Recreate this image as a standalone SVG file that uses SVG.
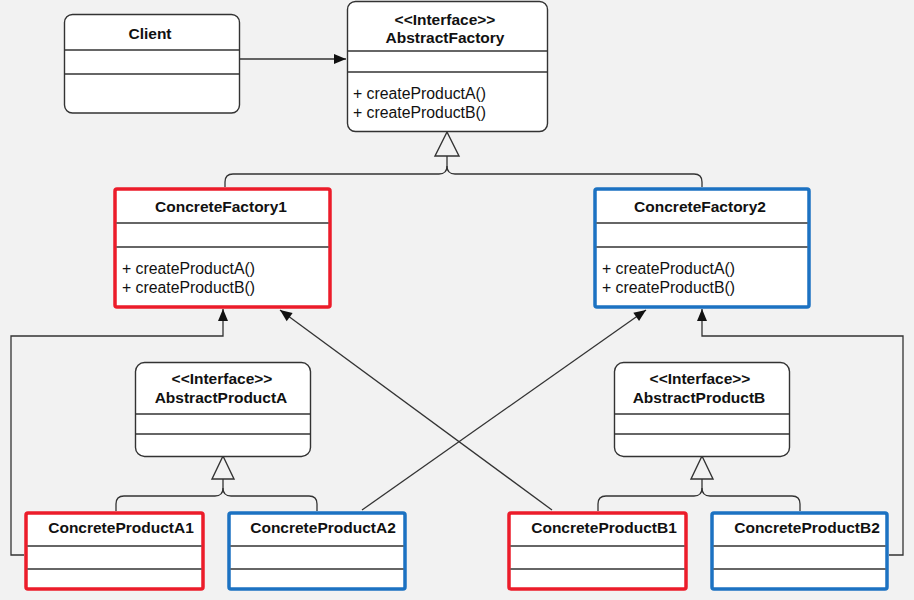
<svg xmlns="http://www.w3.org/2000/svg" width="914" height="600" viewBox="0 0 914 600">
<defs>
<style>
.bg{fill:#f2f2f2}
.box{fill:#ffffff;stroke:#333333;stroke-width:1.4}
.red{fill:#ffffff;stroke:#ec1c2a;stroke-width:3.5}
.blue{fill:#ffffff;stroke:#1c72c2;stroke-width:3.5}
.sep{stroke:#333333;stroke-width:1.4;fill:none}
.t{font-family:"Liberation Sans",Arial,Helvetica,sans-serif;font-size:15.5px;font-weight:bold;fill:#111111;text-anchor:middle}
.m{font-family:"Liberation Sans",Arial,Helvetica,sans-serif;font-size:15.8px;fill:#111111}
.c{fill:none;stroke:#333333;stroke-width:1.3}
.tri{fill:#f2f2f2;stroke:#333333;stroke-width:1.4}
</style>
<marker id="arr" markerUnits="userSpaceOnUse" markerWidth="14" markerHeight="14" viewBox="0 0 14 14" refX="13" refY="7" orient="auto">
<path d="M1,2 L13,7 L1,12 Z" fill="#111111"/>
</marker>
</defs>
<rect class="bg" x="0" y="0" width="914" height="600"/>

<g id="connectors">
<path class="c" d="M239,59 H346" marker-end="url(#arr)"/>
<path class="c" d="M447,156 V166 Q447,174 439,174 H233 Q225,174 225,182 V187"/>
<path class="c" d="M447,166 Q447,174 455,174 H694 Q702,174 702,182 V187"/>
<polygon class="tri" points="447,132 435,156 459,156"/>
<path class="c" d="M24,555 H11 V336 H223 V309" marker-end="url(#arr)"/>
<path class="c" d="M889,555 H903 V336 H702 V309" marker-end="url(#arr)"/>
<path class="c" d="M362,510 L646,310" marker-end="url(#arr)"/>
<path class="c" d="M552,510 L280,310" marker-end="url(#arr)"/>
<path class="c" d="M223,479 V488 Q223,496 215,496 H124 Q116,496 116,504 V511"/>
<path class="c" d="M223,488 Q223,496 231,496 H309 Q317,496 317,504 V511"/>
<polygon class="tri" points="223,456 212,479 234,479"/>
<path class="c" d="M702,479 V488 Q702,496 694,496 H606 Q598,496 598,504 V511"/>
<path class="c" d="M702,488 Q702,496 710,496 H792 Q800,496 800,504 V511"/>
<polygon class="tri" points="702,456 691,479 713,479"/>
</g>

<g id="client">
<rect class="box" x="64.5" y="14.5" width="175" height="98.5" rx="8"/>
<line class="sep" x1="64.5" y1="50" x2="239.5" y2="50"/>
<line class="sep" x1="64.5" y1="74" x2="239.5" y2="74"/>
<text class="t" x="150" y="39">Client</text>
</g>

<g id="abstract-factory">
<rect class="box" x="347.5" y="1.5" width="200" height="130" rx="8"/>
<line class="sep" x1="347.5" y1="51" x2="547.5" y2="51"/>
<line class="sep" x1="347.5" y1="72" x2="547.5" y2="72"/>
<text class="t" x="445" y="25">&lt;&lt;Interface&gt;&gt;</text>
<text class="t" x="445" y="43">AbstractFactory</text>
<text class="m" x="353" y="99">+ createProductA()</text>
<text class="m" x="353" y="118">+ createProductB()</text>
</g>

<g id="concrete-factory-1">
<rect class="red" x="115" y="189" width="215" height="118" rx="2"/>
<line class="sep" x1="116.5" y1="223" x2="328.5" y2="223"/>
<line class="sep" x1="116.5" y1="247" x2="328.5" y2="247"/>
<text class="t" x="221" y="212">ConcreteFactory1</text>
<text class="m" x="122" y="274">+ createProductA()</text>
<text class="m" x="122" y="293">+ createProductB()</text>
</g>

<g id="concrete-factory-2">
<rect class="blue" x="595" y="189" width="214" height="118" rx="2"/>
<line class="sep" x1="596.5" y1="223" x2="807.5" y2="223"/>
<line class="sep" x1="596.5" y1="247" x2="807.5" y2="247"/>
<text class="t" x="700" y="212">ConcreteFactory2</text>
<text class="m" x="602" y="274">+ createProductA()</text>
<text class="m" x="602" y="293">+ createProductB()</text>
</g>

<g id="abstract-product-a">
<rect class="box" x="135.5" y="362.5" width="175" height="94" rx="9"/>
<line class="sep" x1="135.5" y1="414" x2="310.5" y2="414"/>
<line class="sep" x1="135.5" y1="434" x2="310.5" y2="434"/>
<text class="t" x="222" y="384">&lt;&lt;Interface&gt;&gt;</text>
<text class="t" x="221" y="403">AbstractProductA</text>
</g>

<g id="abstract-product-b">
<rect class="box" x="614.5" y="362.5" width="175" height="94" rx="9"/>
<line class="sep" x1="614.5" y1="414" x2="789.5" y2="414"/>
<line class="sep" x1="614.5" y1="434" x2="789.5" y2="434"/>
<text class="t" x="700" y="384">&lt;&lt;Interface&gt;&gt;</text>
<text class="t" x="699" y="403">AbstractProductB</text>
</g>

<g id="concrete-product-a1">
<rect class="red" x="26" y="513" width="177" height="76" rx="2"/>
<line class="sep" x1="27.5" y1="546" x2="201.5" y2="546"/>
<line class="sep" x1="27.5" y1="569" x2="201.5" y2="569"/>
<text class="t" x="121" y="533">ConcreteProductA1</text>
</g>

<g id="concrete-product-a2">
<rect class="blue" x="229" y="513" width="176" height="76" rx="2"/>
<line class="sep" x1="230.5" y1="546" x2="403.5" y2="546"/>
<line class="sep" x1="230.5" y1="569" x2="403.5" y2="569"/>
<text class="t" x="323" y="533">ConcreteProductA2</text>
</g>

<g id="concrete-product-b1">
<rect class="red" x="509" y="513" width="177" height="76" rx="2"/>
<line class="sep" x1="510.5" y1="546" x2="684.5" y2="546"/>
<line class="sep" x1="510.5" y1="569" x2="684.5" y2="569"/>
<text class="t" x="604" y="533">ConcreteProductB1</text>
</g>

<g id="concrete-product-b2">
<rect class="blue" x="712" y="513" width="175" height="76" rx="2"/>
<line class="sep" x1="713.5" y1="546" x2="885.5" y2="546"/>
<line class="sep" x1="713.5" y1="569" x2="885.5" y2="569"/>
<text class="t" x="807" y="533">ConcreteProductB2</text>
</g>
</svg>
